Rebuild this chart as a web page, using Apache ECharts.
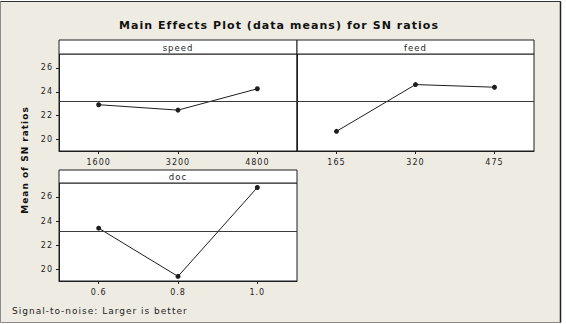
<!DOCTYPE html>
<html>
<head>
<meta charset="utf-8">
<script src="https://cdn.jsdelivr.net/npm/echarts@6/dist/echarts.min.js"></script>
<style>
  html, body { margin: 0; padding: 0; background: #fff; }
  #main { width: 566px; height: 324px; }
  #main text { letter-spacing: 1px; }
</style>
</head>
<body>
<div id="main"></div>
<script>
var speedLevels = ['1600', '3200', '4800'];
var speedMeans = [22.92, 22.47, 24.25];
var feedLevels = ['165', '320', '475'];
var feedMeans = [20.70, 24.60, 24.38];
var docLevels = ['0.6', '0.8', '1.0'];
var docMeans = [23.42, 19.44, 26.78];
var grandMean = 23.19;
var yTicks = [20, 22, 24, 26];

var titleText = 'Main Effects Plot (data means) for SN ratios';

var dom = document.getElementById('main');
var myChart = echarts.init(dom, null, { renderer: 'svg' });
var font = 'DejaVu Sans';
var ink = '#1e1e1e';

function xAxisFor(idx, levels) {
    return {
        type: 'category',
        gridIndex: idx,
        data: levels,
        boundaryGap: true,
        axisLine: { show: true, lineStyle: { color: ink, width: 1 } },
        axisTick: { show: true, alignWithLabel: true, length: 3, lineStyle: { color: ink } },
        axisLabel: { color: ink, fontFamily: font, fontSize: 8, margin: 7 },
        splitLine: { show: false }
    };
}

function yAxisFor(idx, showLabels) {
    return {
        type: 'value',
        gridIndex: idx,
        min: 19.06,
        max: 27.15,
        axisLine: { show: true, lineStyle: { color: ink, width: 1 } },
        axisTick: { show: showLabels, length: 3, customValues: yTicks, lineStyle: { color: ink } },
        axisLabel: { show: showLabels, customValues: yTicks, color: ink, fontFamily: font, fontSize: 8, margin: 6 },
        splitLine: { show: false }
    };
}

function seriesFor(idx, values) {
    return {
        type: 'line',
        xAxisIndex: idx,
        yAxisIndex: idx,
        data: values,
        symbol: 'circle',
        symbolSize: 5,
        showSymbol: true,
        itemStyle: { color: ink },
        lineStyle: { color: ink, width: 1 },
        animation: false,
        markLine: {
            silent: true,
            symbol: 'none',
            label: { show: false },
            lineStyle: { color: '#3a3a3a', width: 1, type: 'solid' },
            data: [{ yAxis: grandMean }]
        }
    };
}

function header(x, y, w, h, label) {
    return [
        { type: 'rect', shape: { x: x, y: y, width: w, height: h },
          style: { fill: '#fff', stroke: ink, lineWidth: 1 }, z: 10 },
        { type: 'text', x: x + w / 2, y: y + h / 2 + 0.5, z: 11,
          style: { text: label, fill: ink, font: '8.5px "DejaVu Sans"', textAlign: 'center', textVerticalAlign: 'middle' } }
    ];
}

var gridStyle = { show: true, backgroundColor: '#fff', borderColor: ink, borderWidth: 1 };

var option = {
    backgroundColor: '#fff',
    animation: false,
    grid: [
        Object.assign({ left: 59, top: 54, width: 238, height: 97 }, gridStyle),
        Object.assign({ left: 297, top: 54, width: 237, height: 97 }, gridStyle),
        Object.assign({ left: 59, top: 183, width: 238, height: 98 }, gridStyle)
    ],
    xAxis: [xAxisFor(0, speedLevels), xAxisFor(1, feedLevels), xAxisFor(2, docLevels)],
    yAxis: [yAxisFor(0, true), yAxisFor(1, false), yAxisFor(2, true)],
    series: [seriesFor(0, speedMeans), seriesFor(1, feedMeans), seriesFor(2, docMeans)],
    graphic: [
        // 背景框
        { type: 'rect', shape: { x: 0.5, y: 1.5, width: 560, height: 321 },
          style: { fill: '#eeebe2', stroke: '#8a8a8a', lineWidth: 1 }, z: -10, silent: true },
        { type: 'line', shape: { x1: 0.5, y1: 1.5, x2: 560.5, y2: 1.5 }, style: { stroke: '#333', lineWidth: 1 }, z: -9 },
        { type: 'line', shape: { x1: 560.5, y1: 1.5, x2: 560.5, y2: 322.5 }, style: { stroke: '#222', lineWidth: 1.5 }, z: -9 },
        { type: 'text', x: 279, y: 25.5,
          style: { text: titleText, fill: '#111',
                   font: 'bold 11px "DejaVu Sans"', textAlign: 'center', textVerticalAlign: 'middle' } },
        { type: 'text', x: 25, y: 160, rotation: Math.PI / 2,
          style: { text: 'Mean of SN ratios', fill: '#111',
                   font: 'bold 9px "DejaVu Sans"', textAlign: 'center', textVerticalAlign: 'middle' } },
        { type: 'text', x: 12, y: 311,
          style: { text: 'Signal-to-noise: Larger is better', fill: ink,
                   font: '9px "DejaVu Sans"', textAlign: 'left', textVerticalAlign: 'middle' } }
    ].concat(
        header(59, 40, 238, 14, 'speed'),
        header(297, 40, 237, 14, 'feed'),
        header(59, 170, 238, 13, 'doc')
    )
};

myChart.setOption(option, true);

// 标题字距更宽
var texts = dom.querySelectorAll('text');
for (var i = 0; i < texts.length; i++) {
    if (texts[i].textContent === titleText) {
        texts[i].style.letterSpacing = '1.05px';
    }
}
</script>
</body>
</html>
